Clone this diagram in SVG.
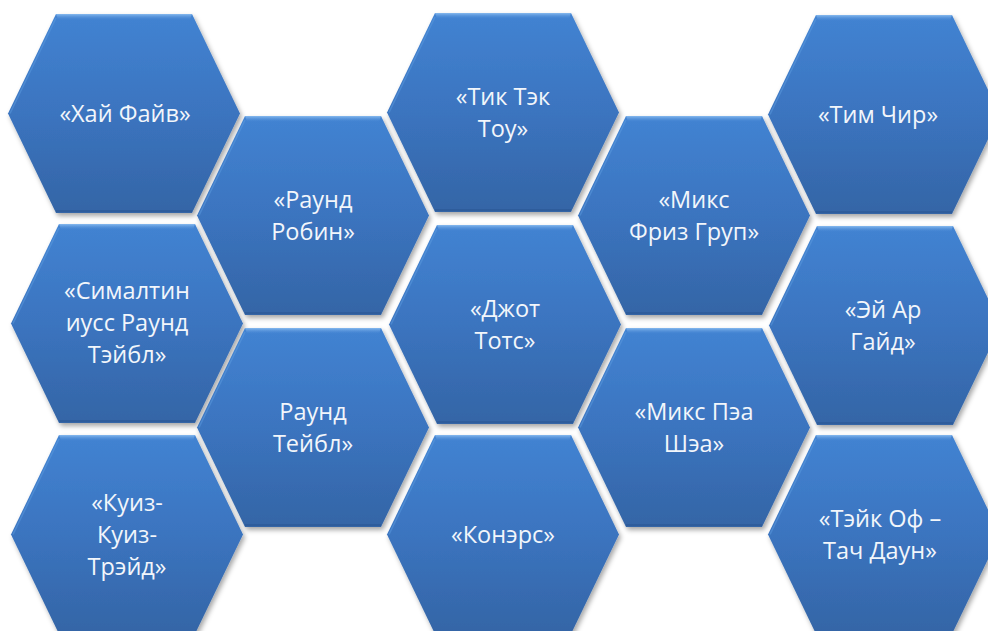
<svg xmlns="http://www.w3.org/2000/svg" xmlns:xlink="http://www.w3.org/1999/xlink" width="988" height="631" viewBox="0 0 988 631">
  <defs>
    <linearGradient id="fillGrad" x1="0" y1="0" x2="0" y2="1">
      <stop offset="0" stop-color="#4283d2"/>
      <stop offset="0.5" stop-color="#3b74bf"/>
      <stop offset="1" stop-color="#3465a6"/>
    </linearGradient>
    <linearGradient id="bevelGrad" x1="0" y1="0" x2="0" y2="1">
      <stop offset="0" stop-color="#8fc0f2" stop-opacity="0.9"/>
      <stop offset="1" stop-color="#4a8ad6" stop-opacity="0"/>
    </linearGradient>
    <filter id="shadow" x="-10%" y="-10%" width="125%" height="125%">
      <feDropShadow dx="2" dy="3" stdDeviation="2.5" flood-color="#000000" flood-opacity="0.35"/>
    </filter>
    <g id="hex">
      <polygon points="0,99.5 48,0 184,0 232,99.5 184,199 48,199" fill="url(#fillGrad)" filter="url(#shadow)"/>
      <polygon points="48,0 184,0 182,6 50,6" fill="url(#bevelGrad)"/>
      <polyline points="2,99.5 48,4" fill="none" stroke="#5c9be0" stroke-opacity="0.5" stroke-width="1.5"/>
      <polyline points="48,197 184,197" fill="none" stroke="#2a5694" stroke-opacity="0.6" stroke-width="2"/>
    </g>
  </defs>
  <style>
    .lbl { font-family: "Open Sans", Lato, "Liberation Sans", sans-serif; font-size: 23.5px; fill: #f2f6fb; text-anchor: middle; }
  </style>
  <rect width="988" height="631" fill="#ffffff"/>

  <g id="connectors"/>

  <g id="node-hai-faiv">
    <use xlink:href="#hex" x="8" y="14"/>
    <text class="lbl" x="125" y="122">«Хай Файв»</text>
  </g>

  <g id="node-raund-robin">
    <use xlink:href="#hex" x="197" y="116"/>
    <text class="lbl" x="313" y="208">«Раунд</text>
    <text class="lbl" x="313" y="240">Робин»</text>
  </g>

  <g id="node-tik-tek-tou">
    <use xlink:href="#hex" x="387" y="13"/>
    <text class="lbl" x="503" y="105">«Тик Тэк</text>
    <text class="lbl" x="503" y="137">Тоу»</text>
  </g>

  <g id="node-miks-friz-grup">
    <use xlink:href="#hex" x="578" y="116"/>
    <text class="lbl" x="694" y="208">«Микс</text>
    <text class="lbl" x="694" y="240">Фриз Груп»</text>
  </g>

  <g id="node-tim-chir">
    <use xlink:href="#hex" x="768" y="15"/>
    <text class="lbl" x="878" y="123">«Тим Чир»</text>
  </g>

  <g id="node-simaltin">
    <use xlink:href="#hex" x="11" y="224"/>
    <text class="lbl" x="127" y="299">«Сималтин</text>
    <text class="lbl" x="127" y="331">иусс Раунд</text>
    <text class="lbl" x="127" y="363">Тэйбл»</text>
  </g>

  <g id="node-dzhot-tots">
    <use xlink:href="#hex" x="389" y="225"/>
    <text class="lbl" x="505" y="317">«Джот</text>
    <text class="lbl" x="505" y="349">Тотс»</text>
  </g>

  <g id="node-ei-ar-gaid">
    <use xlink:href="#hex" x="769" y="226"/>
    <text class="lbl" x="883" y="318">«Эй Ар</text>
    <text class="lbl" x="883" y="350">Гайд»</text>
  </g>

  <g id="node-raund-teibl">
    <use xlink:href="#hex" x="197" y="328"/>
    <text class="lbl" x="313" y="420">Раунд</text>
    <text class="lbl" x="313" y="452">Тейбл»</text>
  </g>

  <g id="node-miks-pea-shea">
    <use xlink:href="#hex" x="578" y="328"/>
    <text class="lbl" x="694" y="420">«Микс Пэа</text>
    <text class="lbl" x="694" y="452">Шэа»</text>
  </g>

  <g id="node-kuiz">
    <use xlink:href="#hex" x="11" y="435"/>
    <text class="lbl" x="127" y="511">«Куиз-</text>
    <text class="lbl" x="127" y="543">Куиз-</text>
    <text class="lbl" x="127" y="575">Трэйд»</text>
  </g>

  <g id="node-koners">
    <use xlink:href="#hex" x="387" y="435"/>
    <text class="lbl" x="503" y="543">«Конэрс»</text>
  </g>

  <g id="node-teik-of">
    <use xlink:href="#hex" x="768" y="435"/>
    <text class="lbl" x="880" y="527">«Тэйк Оф –</text>
    <text class="lbl" x="880" y="559">Тач Даун»</text>
  </g>
</svg>
